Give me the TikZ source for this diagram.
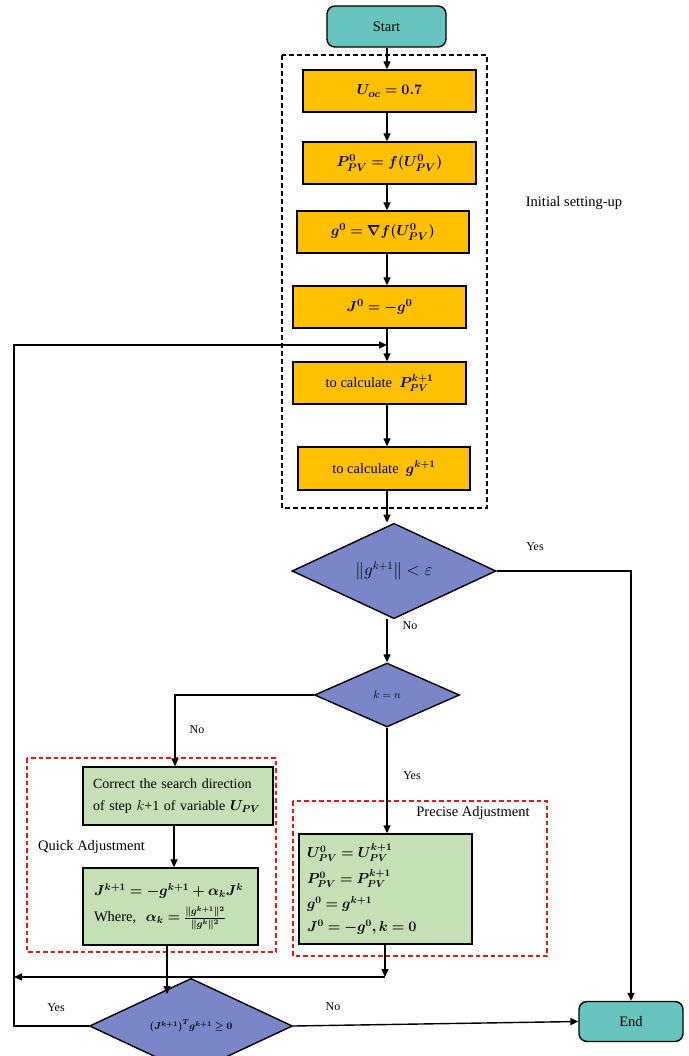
\documentclass[tikz,border=0pt]{standalone}
\usepackage{amsmath,amssymb,bm}
\usepackage{fontspec}
\setmainfont{Liberation Serif}
\usetikzlibrary{shapes.geometric,arrows.meta,calc}
\definecolor{orng}{RGB}{255,192,0}
\definecolor{tealc}{RGB}{104,196,190}
\definecolor{dia}{RGB}{122,134,200}
\definecolor{grn}{RGB}{197,224,180}
\definecolor{redd}{RGB}{240,20,20}
\newcommand\myfs{\fontsize{14.5}{22}\selectfont}
\newcommand\myfm{\fontsize{15}{22}\selectfont}
\begin{document}
\begin{tikzpicture}[x=1pt,y=-1pt,
  >={Triangle[length=8pt,width=7pt]},
  line/.style={line width=1.4pt, draw=black},
  arr/.style={line, ->},
  obox/.style={draw=black, line width=1.4pt, fill=orng, minimum width=173pt, minimum height=42pt, inner sep=0pt, font=\myfm},
  gbox/.style={draw=black, line width=1.4pt, fill=grn, inner ysep=0pt, align=left, font=\myfs},
  term/.style={draw=black, line width=1.4pt, fill=tealc, rounded corners=8pt, minimum height=41pt, inner sep=0pt, font=\myfs},
  dec/.style={diamond, draw=black, line width=1.4pt, fill=dia, inner sep=0pt},
  lbl/.style={font=\fontsize{12}{14}\selectfont, inner sep=0pt},
  txt/.style={font=\myfs, inner sep=0pt},
  grpb/.style={draw=black, line width=1.4pt, dash pattern=on 5pt off 3pt},
  grpr/.style={draw=redd, line width=1.4pt, dash pattern=on 4.5pt off 3pt}]
\useasboundingbox (0,0) rectangle (688,1056);
\fill[white] (0,0) rectangle (688,1056);
% axis coordinates
\coordinate (ax) at (387,0);
\coordinate (lxc) at (14,0);
% groups
\draw[grpb] (282,55) rectangle (487,508);
\draw[grpr] (27,758) rectangle (276,952);
\draw[grpr] (293,801) rectangle (547,956);
% nodes
\node[term, minimum width=119pt] (start) at (386.5,26.5) {Start};
\node[obox] (b1) at (389.5,91) {$\bm{U_{oc}=0.7}$};
\node[obox] (b2) at (389.5,163) {$\bm{P^{0}_{PV}=f(U^{0}_{PV})}$};
\node[obox, minimum width=172pt] (b3) at (383,232) {$\bm{g^{0}=\nabla f(U^{0}_{PV})}$};
\node[obox] (b4) at (379.5,307) {$\bm{J^{0}=-g^{0}}$};
\node[obox, font=\myfs] (b5) at (379.5,383) {to calculate \ $\bm{P^{k+1}_{PV}}$};
\node[obox, minimum width=172pt, minimum height=43pt, font=\myfs] (b6) at (384,468.5) {to calculate \ $\bm{g^{k+1}}$};
\node[dec, minimum width=204pt, minimum height=71pt, font=\fontsize{16}{18}\selectfont] (d1) at (394,571) {$\|g^{k+1}\|<\varepsilon$};
\node[dec, minimum width=145pt, minimum height=64pt, font=\fontsize{11}{13}\selectfont] (d2) at (387,695) {$k=n$};
\node[gbox, minimum height=58pt, inner xsep=10pt, text width=170pt, font=\fontsize{14}{22}\selectfont] (qb1) at (178,796)
  {Correct the search direction\\of step $k$+1 of variable $\bm{U_{PV}}$};
\node[gbox, minimum height=77pt, inner xsep=11pt, text width=153pt] (qb2) at (170.5,906.5)
  {$\bm{J^{k+1}=-g^{k+1}+\alpha_k J^{k}}$\\[4pt]Where, \ $\bm{\alpha_k=\frac{\|g^{k+1}\|^2}{\|g^{k}\|^2}}$};
\node[gbox, minimum height=110pt, inner xsep=8pt, text width=157pt, font=\fontsize{14}{21}\selectfont] (pb) at (385.5,889)
  {$\bm{U^{0}_{PV}=U^{k+1}_{PV}}$\\[5pt]$\bm{P^{0}_{PV}=P^{k+1}_{PV}}$\\[4pt]$\bm{g^{0}=g^{k+1}}$\\[2pt]$\bm{J^{0}=-g^{0},k=0}$};
\node[dec, minimum width=203pt, minimum height=62pt, font=\fontsize{10}{12}\selectfont] (d3) at (191,1026) {$\bm{(J^{k+1})^{T}g^{k+1}\geq 0}$};
\node[term, minimum width=104pt, minimum height=40pt] (end) at (631,1021.5) {End};
% text labels
\node[txt] (init) at (574,203) {Initial setting-up};
\node[txt, anchor=west] (quick) at (38,847) {Quick Adjustment};
\node[txt] (prec) at (473,813) {Precise Adjustment};
\node[lbl] (y1) at (535,547) {Yes};
\node[lbl] (n1) at (410,626) {No};
\node[lbl] (n2) at (197,730) {No};
\node[lbl] (y2) at (412,776) {Yes};
\node[lbl] (y3) at (56,1008) {Yes};
\node[lbl] (n3) at (333,1007) {No};
% connectors
\coordinate (loopin) at (387,345);
\coordinate (jr) at (385,977);
\coordinate (q3) at (167,994);
\draw[arr] (start.south -| ax) -- (b1.north -| ax);
\draw[arr] (b1.south -| ax) -- (b2.north -| ax);
\draw[arr] (b2.south -| ax) -- (b3.north -| ax);
\draw[arr] (b3.south -| ax) -- (b4.north -| ax);
\draw[arr] (b4.south -| ax) -- (b5.north -| ax);
\draw[arr] (b5.south -| ax) -- (b6.north -| ax);
\draw[arr] (b6.south -| ax) -- (d1.north -| ax);
\draw[arr] (d1.south -| ax) -- (d2.north -| ax);
\draw[arr] (d1.east) -| (end.north);
\draw[arr] (d2.west) -| (qb1.north -| 175,0);
\draw[arr] (d2.south) -- (pb.north -| d2.south);
\draw[arr] (qb1.south -| 174,0) -- (qb2.north -| 174,0);
\draw[arr] (qb2.south -| q3) -- (q3);
\draw[arr] (pb.south -| jr) -- (jr);
\draw[arr] (jr) -- (jr -| lxc);
\draw[arr] (d3.west) -- (d3.west -| lxc) |- (loopin);
\draw[arr] (d3.east) -- (end.west);
\end{tikzpicture}
\end{document}
